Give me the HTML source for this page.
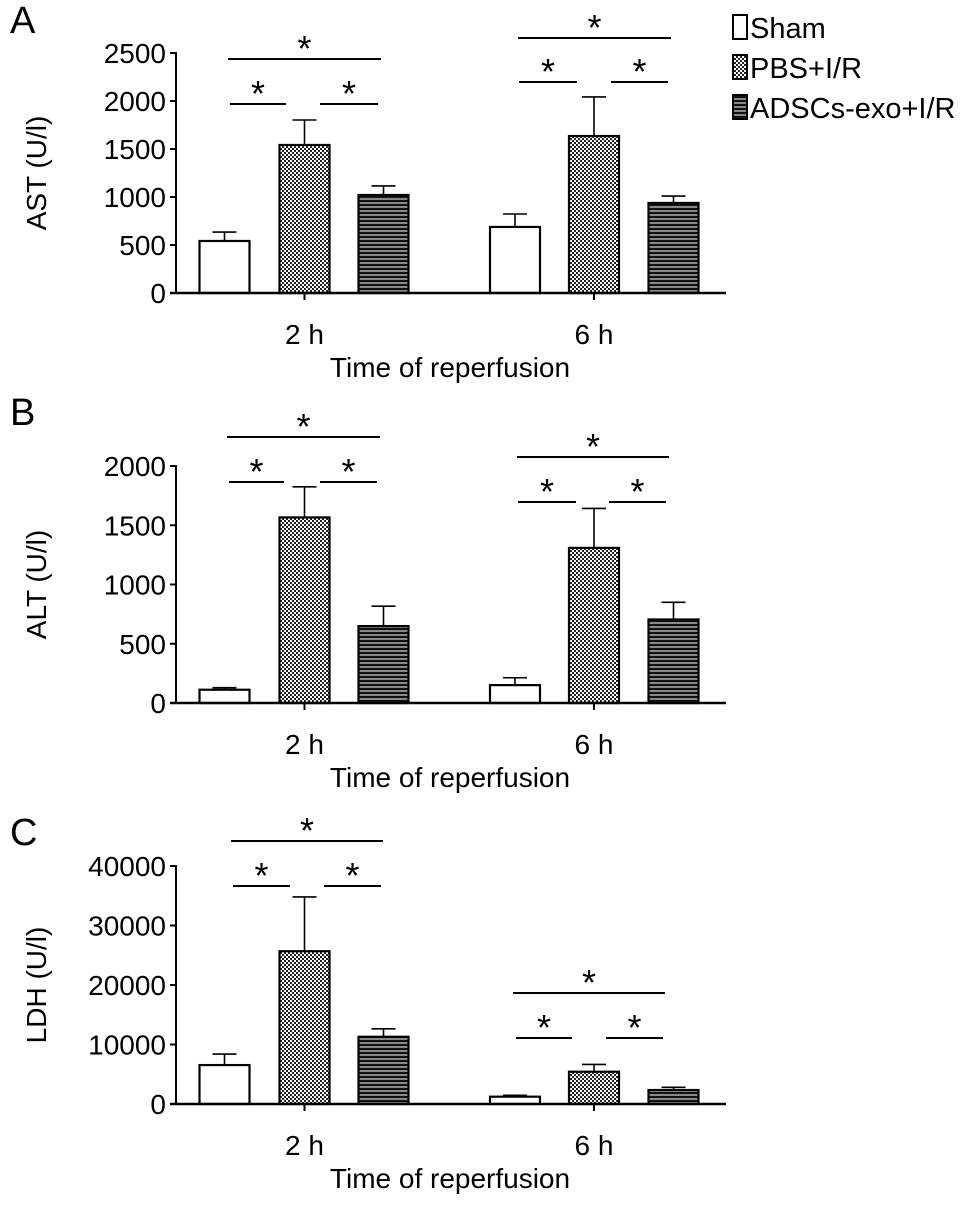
<!DOCTYPE html>
<html><head><meta charset="utf-8">
<style>
html,body{margin:0;padding:0;background:#fff;}
svg{display:block;font-family:"Liberation Sans",Arial,sans-serif;}
</style></head>
<body>
<svg id="fig" width="969" height="1208" viewBox="0 0 969 1208" xmlns="http://www.w3.org/2000/svg">
<defs>
<pattern id="checker" width="4" height="4" patternUnits="userSpaceOnUse">
<rect width="4" height="4" fill="#fff"/><rect width="2" height="2" fill="#222"/><rect x="2" y="2" width="2" height="2" fill="#222"/>
</pattern>
<pattern id="stripes" width="4" height="4" patternUnits="userSpaceOnUse">
<rect width="4" height="4" fill="#888"/><rect width="4" height="2" fill="#111"/>
</pattern>
</defs>
<g>
<rect x="733" y="15" width="14" height="24" fill="#fff" stroke="#000" stroke-width="2"/>
<text x="750" y="38" font-size="29">Sham</text>
<rect x="733" y="55" width="14" height="24" fill="url(#checker)" stroke="#000" stroke-width="2"/>
<text x="750" y="78" font-size="29">PBS+I/R</text>
<rect x="733" y="95" width="14" height="24" fill="url(#stripes)" stroke="#000" stroke-width="2"/>
<text x="750" y="118" font-size="29">ADSCs-exo+I/R</text>
</g>
</svg>
<script>
const groups = ["2 h", "6 h"];
const series = ["Sham", "PBS+I/R", "ADSCs-exo+I/R"];
const astMean = [542, 1542, 1021, 688, 1635, 938];
const astErr = [635, 1802, 1115, 823, 2042, 1010];
const astTicks = [0, 500, 1000, 1500, 2000, 2500];
const altMean = [112, 1566, 649, 151, 1309, 705];
const altErr = [129, 1824, 817, 213, 1642, 850];
const altTicks = [0, 500, 1000, 1500, 2000];
const ldhMean = [6545, 25678, 11301, 1231, 5427, 2350];
const ldhErr = [8392, 34797, 12643, 1454, 6657, 2797];
const ldhTicks = [0, 10000, 20000, 30000, 40000];

const NS = "http://www.w3.org/2000/svg";
const svg = document.getElementById("fig");
function mk(tag, attrs, parent) {
  const e = document.createElementNS(NS, tag);
  for (const k in attrs) e.setAttribute(k, attrs[k]);
  (parent || svg).appendChild(e);
  return e;
}
const fills = ["#fff", "url(#checker)", "url(#stripes)"];
const barCenters = [224.5, 304.5, 383.5, 515, 594, 673.5];
const barW = 50;
const axisX = 176, axisEnd = 726;

function panel(cfg) {
  const g = mk("g", {});
  
  
  const y = v => cfg.y0 - (v / cfg.max) * (cfg.y0 - cfg.yTop);
  const L = mk("text", {x: 10, y: cfg.letterY + 15, "font-size": 38}, g);
  L.textContent = cfg.letter;
  
  
  for (let i = 0; i < cfg.mean.length; i++) {
    const cx = barCenters[i];
    const top = y(cfg.mean[i]), et = y(cfg.err[i]);
    const el = mk("line", {x1: cx, x2: cx, y1: top, y2: et, stroke: "#000", "stroke-width": 1.6}, g);
    
    
    const cap = mk("line", {x1: cx - 12, x2: cx + 12, y1: et, y2: et, stroke: "#000", "stroke-width": 1.6}, g);
    
    
    const r = mk("rect", {x: cx - barW / 2, y: top, width: barW, height: cfg.y0 - top, fill: fills[i % 3], stroke: "#000", "stroke-width": 2.2}, g);
    
    
  }
  const ya = mk("line", {x1: axisX, x2: axisX, y1: y(cfg.max) - 1, y2: cfg.y0, stroke: "#000", "stroke-width": 2}, g);
  
  
  const xa = mk("line", {x1: axisX - 6, x2: axisEnd, y1: cfg.y0, y2: cfg.y0, stroke: "#000", "stroke-width": 2.4}, g);
  
  
  cfg.ticks.forEach(t => {
    mk("line", {x1: axisX - 6, x2: axisX, y1: y(t), y2: y(t), stroke: "#000", "stroke-width": 2}, g);
    const tl = mk("text", {x: 166, y: y(t) + 10, "font-size": 28, "text-anchor": "end"}, g);
    tl.textContent = t;
    
    
  });
  groups.forEach((gname, j) => {
    const cx = barCenters[j * 3 + 1];
    mk("line", {x1: cx, x2: cx, y1: cfg.y0, y2: cfg.y0 + 7, stroke: "#000", "stroke-width": 2}, g);
    const tl = mk("text", {x: cx, y: cfg.y0 + 51, "font-size": 28, "text-anchor": "middle"}, g);
    tl.textContent = gname;
    
    
  });
  const xt = mk("text", {x: 450, y: cfg.y0 + 84, "font-size": 28, "text-anchor": "middle"}, g);
  xt.textContent = "Time of reperfusion";
  
  
  const cy = (cfg.y0 + y(cfg.max)) / 2;
  const yt = mk("text", {x: 0, y: 0, "font-size": 28, "text-anchor": "middle", transform: "translate(46," + cy + ") rotate(-90)"}, g);
  yt.textContent = cfg.title;
  
  
  cfg.sig.forEach(s => {
    const ln = mk("line", {x1: s[0], x2: s[1], y1: s[2], y2: s[2], stroke: "#000", "stroke-width": 2}, g);
    
    
    const st = mk("text", {x: (s[0] + s[1]) / 2, y: s[2] + 2, "font-size": 36, "text-anchor": "middle"}, g);
    st.textContent = "*";
    
    
  });
}

panel({key: "ast", letter: "A", letterY: 18, title: "AST (U/l)", mean: astMean, err: astErr, ticks: astTicks, max: 2500, y0: 293, yTop: 53,
  sig: [[228, 381, 59], [230, 286, 104], [320, 378, 104], [518, 671, 38], [519, 577, 82], [611, 668, 82]]});
panel({key: "alt", letter: "B", letterY: 410, title: "ALT (U/l)", mean: altMean, err: altErr, ticks: altTicks, max: 2000, y0: 703, yTop: 466,
  sig: [[227, 380, 437], [229, 284, 482], [320, 377, 482], [517, 669, 457], [518, 576, 502], [609, 666, 502]]});
panel({key: "ldh", letter: "C", letterY: 830, title: "LDH (U/l)", mean: ldhMean, err: ldhErr, ticks: ldhTicks, max: 40000, y0: 1104, yTop: 866,
  sig: [[231, 383, 841], [233, 290, 886], [324, 381, 886], [513, 665, 993], [516, 572, 1038], [606, 663, 1038]]});
</script>
</body></html>
